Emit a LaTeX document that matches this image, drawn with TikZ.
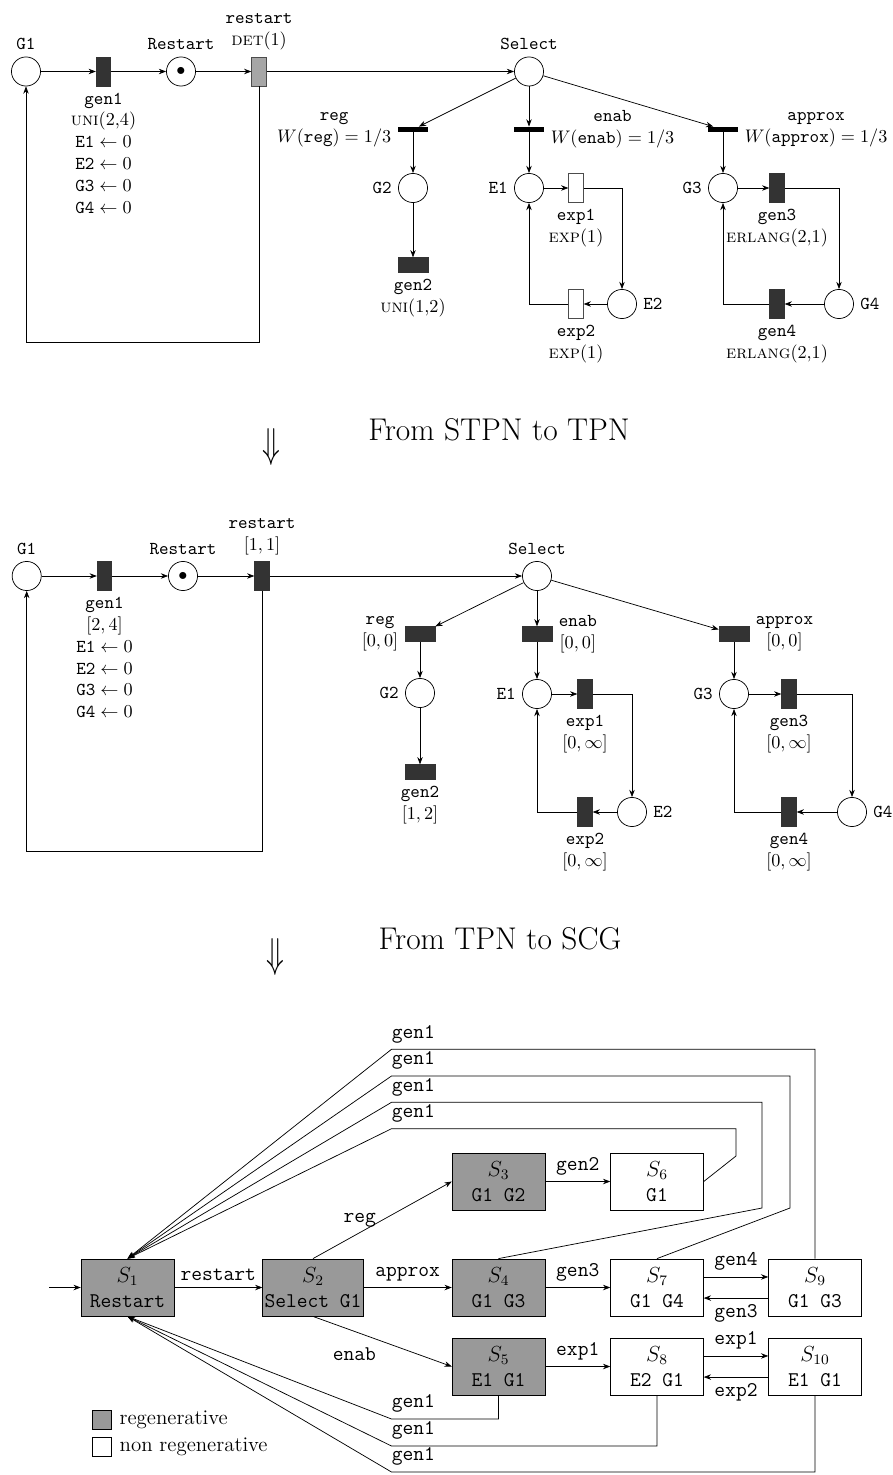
\documentclass[tikz,border=0pt]{standalone}
\usetikzlibrary{arrows.meta,positioning,calc}
\definecolor{TransDark}{HTML}{333333}
\definecolor{TransDet}{HTML}{A6A6A6}
\definecolor{RegenGray}{HTML}{999999}
\newcommand\scgfont{\fontsize{11.5}{14}\selectfont}
\newcommand\bigdown{\scalebox{1.6}[2.3]{$\Downarrow$}}

\begin{document}
\begin{tikzpicture}[x=0.55pt,y=-0.55pt,
    place/.style={circle,draw,minimum size=16pt,inner sep=0pt},
    timed/.style={rectangle,draw=black!80,fill=TransDark,minimum width=8pt,minimum height=16pt,inner sep=0pt},
    dettr/.style={timed,fill=TransDet,draw=black!70},
    exptr/.style={timed,fill=white,draw=black!70},
    immtr/.style={rectangle,fill=black,minimum width=16.5pt,minimum height=2.8pt,inner sep=0pt},
    zerotr/.style={rectangle,draw=black!80,fill=TransDark,minimum width=16.5pt,minimum height=8pt,inner sep=0pt},
    arrow/.style={-{Stealth[length=4pt,width=3pt]}},
    state/.style={rectangle,draw,minimum width=51pt,minimum height=31.4pt,inner sep=1pt,align=center,font=\scgfont},
    regstate/.style={state,fill=RegenGray},
    edgelbl/.style={font=\scgfont},
    backlbl/.style={font=\scgfont,anchor=south west,inner xsep=0pt}
  ]
  \useasboundingbox (0,0) rectangle (892,1475);

  % STPN
  \node[place,label=above:\texttt{G1}] (G1a) at (26,71.5) {};
  \node[timed,label={[align=center]below:{\texttt{gen1}\\\textsc{uni}(2,4)\\$\texttt{E1}\leftarrow 0$\\$\texttt{E2}\leftarrow 0$\\$\texttt{G3}\leftarrow 0$\\$\texttt{G4}\leftarrow 0$}}] (gen1a) at (103.5,71.5) {};
  \node[place,label=above:\texttt{Restart}] (Restarta) at (181,71.5) {$\bullet$};
  \node[dettr,label={[align=center]above:{\texttt{restart}\\\textsc{det}(1)}}] (restarta) at (259,71.5) {};
  \node[place,label=above:\texttt{Select}] (Selecta) at (529,71.5) {};
  \coordinate (loopa) at (26,342);

  \node[immtr,label={[align=center]left:{\texttt{reg}\\$W(\texttt{reg})=1/3$}}] (rega) at (413,129.5) {};
  \node[immtr,label={[align=center]right:{\texttt{enab}\\$W(\texttt{enab})=1/3$}}] (enaba) at (529,129.5) {};
  \node[immtr,label={[align=center]right:{\texttt{approx}\\$W(\texttt{approx})=1/3$}}] (approxa) at (723,129.5) {};

  \node[place,label=left:\texttt{G2}] (G2a) at (413,188) {};
  \node[zerotr,label={[align=center]below:{\texttt{gen2}\\\textsc{uni}(1,2)}}] (gen2a) at (413,265) {};

  \node[place,label=left:\texttt{E1}] (E1a) at (529,188) {};
  \node[exptr,label={[align=center]below:{\texttt{exp1}\\\textsc{exp}(1)}}] (exp1a) at (576,188) {};
  \node[place,label=right:\texttt{E2}] (E2a) at (622,304) {};
  \node[exptr,label={[align=center]below:{\texttt{exp2}\\\textsc{exp}(1)}}] (exp2a) at (576,304) {};

  \node[place,label=left:\texttt{G3}] (G3a) at (723,188) {};
  \node[timed,label={[align=center]below:{\texttt{gen3}\\\textsc{erlang}(2,1)}}] (gen3a) at (777,188) {};
  \node[place,label=right:\texttt{G4}] (G4a) at (839,304) {};
  \node[timed,label={[align=center]below:{\texttt{gen4}\\\textsc{erlang}(2,1)}}] (gen4a) at (777,304) {};

  \draw[arrow] (G1a) -- (gen1a);
  \draw[arrow] (gen1a) -- (Restarta);
  \draw[arrow] (Restarta) -- (restarta);
  \draw[arrow] (restarta) -- (Selecta);
  \draw[arrow] (restarta) |- (loopa) -- (G1a);
  \draw[arrow] (Selecta) -- (rega);
  \draw[arrow] (Selecta) -- (enaba);
  \draw[arrow] (Selecta) -- (approxa);
  \draw[arrow] (rega) -- (G2a);
  \draw[arrow] (G2a) -- (gen2a);
  \draw[arrow] (enaba) -- (E1a);
  \draw[arrow] (E1a) -- (exp1a);
  \draw[arrow] (exp1a) -| (E2a);
  \draw[arrow] (E2a) -- (exp2a);
  \draw[arrow] (exp2a) -| (E1a);
  \draw[arrow] (approxa) -- (G3a);
  \draw[arrow] (G3a) -- (gen3a);
  \draw[arrow] (gen3a) -| (G4a);
  \draw[arrow] (G4a) -- (gen4a);
  \draw[arrow] (gen4a) -| (G3a);

  \node (downa) at (271,447) {\bigdown};
  \node (titlea) at (499,430) {\LARGE From STPN to TPN};

  % TPN
  \node[place,label=above:\texttt{G1}] (G1b) at (26.7,576) {};
  \node[timed,label={[align=center]below:{\texttt{gen1}\\$[2,4]$\\$\texttt{E1}\leftarrow 0$\\$\texttt{E2}\leftarrow 0$\\$\texttt{G3}\leftarrow 0$\\$\texttt{G4}\leftarrow 0$}}] (gen1b) at (104.5,576) {};
  \node[place,label=above:\texttt{Restart}] (Restartb) at (183,576) {$\bullet$};
  \node[timed,label={[align=center]above:{\texttt{restart}\\$[1,1]$}}] (restartb) at (262,576) {};
  \node[place,label=above:\texttt{Select}] (Selectb) at (537,576) {};
  \coordinate (loopb) at (26.7,851);

  \node[zerotr,label={[align=center]left:{\texttt{reg}\\$[0,0]$}}] (regb) at (420,634) {};
  \node[zerotr,label={[align=center]right:{\texttt{enab}\\$[0,0]$}}] (enabb) at (537,634) {};
  \node[zerotr,label={[align=center]right:{\texttt{approx}\\$[0,0]$}}] (approxb) at (734,634) {};

  \node[place,label=left:\texttt{G2}] (G2b) at (420,693) {};
  \node[zerotr,label={[align=center]below:{\texttt{gen2}\\$[1,2]$}}] (gen2b) at (420,772) {};

  \node[place,label=left:\texttt{E1}] (E1b) at (537,694) {};
  \node[timed,label={[align=center]below:{\texttt{exp1}\\$[0,\infty]$}}] (exp1b) at (585,694) {};
  \node[place,label=right:\texttt{E2}] (E2b) at (632,812) {};
  \node[timed,label={[align=center]below:{\texttt{exp2}\\$[0,\infty]$}}] (exp2b) at (585,812) {};

  \node[place,label=left:\texttt{G3}] (G3b) at (734,694) {};
  \node[timed,label={[align=center]below:{\texttt{gen3}\\$[0,\infty]$}}] (gen3b) at (789,694) {};
  \node[place,label=right:\texttt{G4}] (G4b) at (852,812) {};
  \node[timed,label={[align=center]below:{\texttt{gen4}\\$[0,\infty]$}}] (gen4b) at (789,812) {};

  \draw[arrow] (G1b) -- (gen1b);
  \draw[arrow] (gen1b) -- (Restartb);
  \draw[arrow] (Restartb) -- (restartb);
  \draw[arrow] (restartb) -- (Selectb);
  \draw[arrow] (restartb) |- (loopb) -- (G1b);
  \draw[arrow] (Selectb) -- (regb);
  \draw[arrow] (Selectb) -- (enabb);
  \draw[arrow] (Selectb) -- (approxb);
  \draw[arrow] (regb) -- (G2b);
  \draw[arrow] (G2b) -- (gen2b);
  \draw[arrow] (enabb) -- (E1b);
  \draw[arrow] (E1b) -- (exp1b);
  \draw[arrow] (exp1b) -| (E2b);
  \draw[arrow] (E2b) -- (exp2b);
  \draw[arrow] (exp2b) -| (E1b);
  \draw[arrow] (approxb) -- (G3b);
  \draw[arrow] (G3b) -- (gen3b);
  \draw[arrow] (gen3b) -| (G4b);
  \draw[arrow] (G4b) -- (gen4b);
  \draw[arrow] (gen4b) -| (G3b);

  \node (downb) at (275,957) {\bigdown};
  \node (titleb) at (500,939) {\LARGE From TPN to SCG};

  % SCG
  \node[regstate] (S1) at (127.5,1287.5) {$S_1$\\\texttt{Restart}};
  \node[regstate,minimum width=53.5pt] (S2) at (313,1287.5) {$S_2$\\\texttt{Select G1}};
  \node[regstate] (S3) at (498.5,1181.5) {$S_3$\\\texttt{G1 G2}};
  \node[regstate] (S4) at (498.5,1287.5) {$S_4$\\\texttt{G1 G3}};
  \node[regstate] (S5) at (498.5,1366.5) {$S_5$\\\texttt{E1 G1}};
  \node[state] (S6) at (657,1181.5) {$S_6$\\\texttt{G1}};
  \node[state] (S7) at (657,1287.5) {$S_7$\\\texttt{G1 G4}};
  \node[state] (S8) at (657,1366.5) {$S_8$\\\texttt{E2 G1}};
  \node[state] (S9) at (815,1287.5) {$S_9$\\\texttt{G1 G3}};
  \node[state] (S10) at (815,1366.5) {$S_{10}$\\\texttt{E1 G1}};
  \coordinate (init) at (49,1287.5);

  \draw[arrow] (init) -- (S1);
  \draw[arrow] (S1) -- node[edgelbl,above] {\texttt{restart}} (S2);
  \draw[arrow] (S2.north) -- node[edgelbl,left] {\texttt{reg}} (S3.west);
  \draw[arrow] (S2) -- node[edgelbl,above] {\texttt{approx}} (S4);
  \draw[arrow] (S2.south) -- node[edgelbl,below left] {\texttt{enab}} (S5.west);
  \draw[arrow] (S3) -- node[edgelbl,above] {\texttt{gen2}} (S6);
  \draw[arrow] (S4) -- node[edgelbl,above] {\texttt{gen3}} (S7);
  \draw[arrow] (S5) -- node[edgelbl,above] {\texttt{exp1}} (S8);
  \draw[arrow] ([yshift=5.8pt]S7.east) -- node[edgelbl,above] {\texttt{gen4}} ([yshift=5.8pt]S9.west);
  \draw[arrow] ([yshift=-5.8pt]S9.west) -- node[edgelbl,below] {\texttt{gen3}} ([yshift=-5.8pt]S7.east);
  \draw[arrow] ([yshift=5.8pt]S8.east) -- node[edgelbl,above] {\texttt{exp1}} ([yshift=5.8pt]S10.west);
  \draw[arrow] ([yshift=-5.8pt]S10.west) -- node[edgelbl,below] {\texttt{exp2}} ([yshift=-5.8pt]S8.east);

  % gen1 back to S1
  \draw[arrow] (S6.east) -- (736,1156) -- (736,1128.7) -- (391.5,1128.7) node[backlbl] {\texttt{gen1}} -- (S1.north);
  \draw[arrow] (S4.north) -- (762,1208) -- (762,1102.3) -- (391.5,1102.3) node[backlbl] {\texttt{gen1}} -- (S1.north);
  \draw[arrow] (S7.north) -- (790,1208) -- (790,1076) -- (391.5,1076) node[backlbl] {\texttt{gen1}} -- (S1.north);
  \draw[arrow] (S9.north) -- (815,1049.3) -- (391.5,1049.3) node[backlbl] {\texttt{gen1}} -- (S1.north);
  \draw[arrow] (S5.south) -- (498.5,1419) -- (391.5,1419) node[backlbl] {\texttt{gen1}} -- (S1.south);
  \draw[arrow] (S8.south) -- (657,1446) -- (391.5,1446) node[backlbl] {\texttt{gen1}} -- (S1.south);
  \draw[arrow] (S10.south) -- (815,1472) -- (391.5,1472) node[backlbl] {\texttt{gen1}} -- (S1.south);

  % legend
  \node[draw,fill=RegenGray,minimum size=10.5pt,inner sep=0pt] (legreg) at (101.5,1419.5) {};
  \node[font=\scgfont,right=1pt of legreg] (legregtxt) {regenerative};
  \node[draw,fill=white,minimum size=10.5pt,inner sep=0pt] (legnon) at (101.5,1446.5) {};
  \node[font=\scgfont,right=1pt of legnon] (legnontxt) {non regenerative};
\end{tikzpicture}
\end{document}
